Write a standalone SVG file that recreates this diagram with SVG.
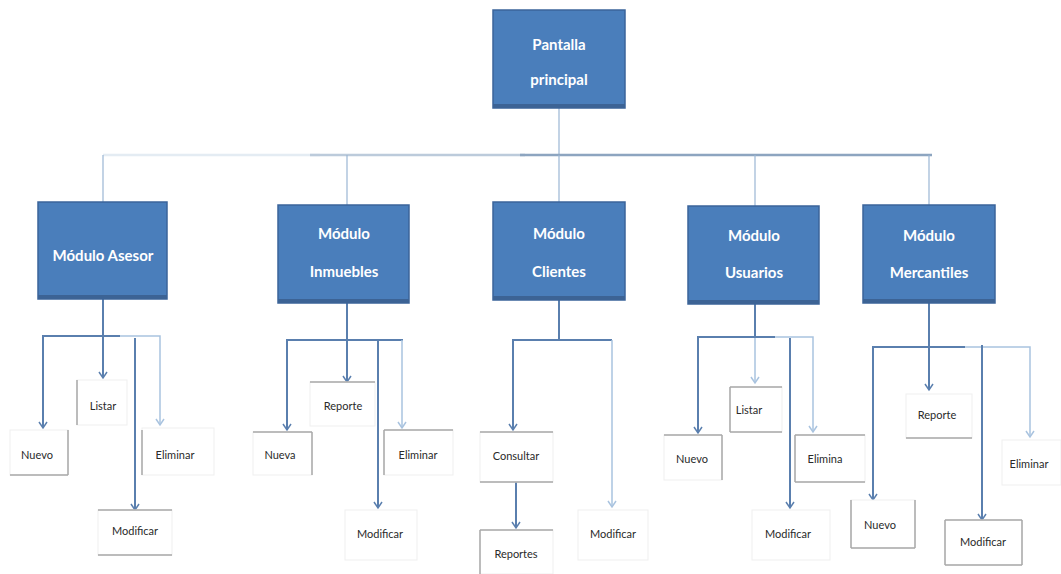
<svg xmlns="http://www.w3.org/2000/svg" width="1061" height="574" viewBox="0 0 1061 574">
  <style>
    .mod rect.body { fill: #4a7ebb; stroke: #3b649a; stroke-width: 1.5; }
    .mod rect.shade { fill: #3c6395; }
    .mod text { font-family: Lato, "Open Sans", "Liberation Sans", sans-serif; font-weight: bold; font-size: 15px; fill: #ffffff; text-anchor: middle; }
    .leaf rect { fill: #ffffff; stroke: #efefef; stroke-width: 1; }
    .leaf line { stroke: #a9a9a9; stroke-width: 1.5; }
    .leaf text { font-family: Lato, "Open Sans", "Liberation Sans", sans-serif; font-size: 11px; fill: #2a2a2a; text-anchor: middle; }
    .dark { fill: none; stroke: #5a7fae; stroke-width: 2; }
    .light { fill: none; stroke: #a9c3df; stroke-width: 1.5; }
    .thin { fill: none; stroke: #9ab6d4; stroke-width: 1.2; }
  </style>
  <defs>
    <!-- open V arrowheads, drawn pointing along +x -->
    <marker id="arrDark" markerUnits="userSpaceOnUse" markerWidth="12" markerHeight="12" refX="10" refY="6" orient="auto" viewBox="0 0 12 12">
      <path d="M4 2 L10 6 L4 10" fill="none" stroke="#5a7fae" stroke-width="1.5"/>
    </marker>
    <marker id="arrLight" markerUnits="userSpaceOnUse" markerWidth="12" markerHeight="12" refX="10" refY="6" orient="auto" viewBox="0 0 12 12">
      <path d="M4 2 L10 6 L4 10" fill="none" stroke="#a9c3df" stroke-width="1.5"/>
    </marker>
  </defs>

  <rect width="1061" height="574" fill="#ffffff"/>

  <!-- connectors -->
  <g id="connectors">
    <!-- main screen to modules -->
    <line class="thin" x1="559" y1="108" x2="559" y2="155"/>
    <line x1="103" y1="155" x2="320" y2="155" stroke="#e4ecf3" stroke-width="2.5"/>
    <line x1="310" y1="155" x2="525" y2="155" stroke="#bccbdb" stroke-width="2.5"/>
    <line x1="520" y1="155" x2="932" y2="155" stroke="#8da5c0" stroke-width="2.5"/>
    <line class="thin" x1="103" y1="155" x2="103" y2="202"/>
    <line class="thin" x1="347" y1="155" x2="347" y2="205"/>
    <line class="thin" x1="559" y1="155" x2="559" y2="202"/>
    <line class="thin" x1="755" y1="155" x2="755" y2="206"/>
    <line class="thin" x1="929" y1="155" x2="929" y2="205"/>

    <!-- Módulo Asesor -->
    <path class="dark" d="M103 299 V378" marker-end="url(#arrDark)"/>
    <path class="dark" d="M120 336 H43 V428" marker-end="url(#arrDark)"/>
    <path class="light" d="M120 336 H160 V425" marker-end="url(#arrLight)"/>
    <path class="dark" d="M135 338 V510" marker-end="url(#arrDark)"/>

    <!-- Módulo Inmuebles -->
    <path class="dark" d="M347 303 V382" marker-end="url(#arrDark)"/>
    <path class="dark" d="M403 340 H287 V430" marker-end="url(#arrDark)"/>
    <path class="light" d="M402 340 V428" marker-end="url(#arrLight)"/>
    <path class="dark" d="M378 340 V508" marker-end="url(#arrDark)"/>

    <!-- Módulo Clientes -->
    <path class="dark" d="M559 300 V340"/>
    <path class="dark" d="M612 340 H513 V430" marker-end="url(#arrDark)"/>
    <path class="light" d="M612 340 V507" marker-end="url(#arrLight)"/>
    <path class="dark" d="M516 482 V528" marker-end="url(#arrDark)"/>

    <!-- Módulo Usuarios -->
    <path class="dark" d="M755 304 V337"/>
    <path class="light" d="M755 337 V383" marker-end="url(#arrLight)"/>
    <path class="dark" d="M775 337 H698 V433" marker-end="url(#arrDark)"/>
    <path class="light" d="M775 337 H813 V432" marker-end="url(#arrLight)"/>
    <path class="dark" d="M790 338 V508" marker-end="url(#arrDark)"/>

    <!-- Módulo Mercantiles -->
    <path class="dark" d="M929 303 V390" marker-end="url(#arrDark)"/>
    <path class="dark" d="M965 347 H873 V500" marker-end="url(#arrDark)"/>
    <path class="light" d="M965 347 H1030 V437" marker-end="url(#arrLight)"/>
    <path class="dark" d="M982 345 V520" marker-end="url(#arrDark)"/>
  </g>

  <!-- main screen -->
  <g id="pantalla-principal" class="mod">
    <rect class="body" x="493" y="10" width="132" height="98"/>
    <rect class="shade" x="493" y="104" width="132" height="4"/>
    <text x="559" y="50">Pantalla</text>
    <text x="559" y="85">principal</text>
  </g>

  <!-- modules -->
  <g id="modulo-asesor" class="mod">
    <rect class="body" x="38" y="202" width="129" height="97"/>
    <rect class="shade" x="38" y="295" width="129" height="4"/>
    <text x="103" y="261">Módulo Asesor</text>
  </g>
  <g id="modulo-inmuebles" class="mod">
    <rect class="body" x="278" y="205" width="131" height="98"/>
    <rect class="shade" x="278" y="299" width="131" height="4"/>
    <text x="344" y="239">Módulo</text>
    <text x="344" y="277">Inmuebles</text>
  </g>
  <g id="modulo-clientes" class="mod">
    <rect class="body" x="493" y="202" width="132" height="98"/>
    <rect class="shade" x="493" y="296" width="132" height="4"/>
    <text x="559" y="239">Módulo</text>
    <text x="559" y="277">Clientes</text>
  </g>
  <g id="modulo-usuarios" class="mod">
    <rect class="body" x="688" y="206" width="131" height="98"/>
    <rect class="shade" x="688" y="300" width="131" height="4"/>
    <text x="754" y="241">Módulo</text>
    <text x="754" y="278">Usuarios</text>
  </g>
  <g id="modulo-mercantiles" class="mod">
    <rect class="body" x="863" y="205" width="132" height="98"/>
    <rect class="shade" x="863" y="299" width="132" height="4"/>
    <text x="929" y="241">Módulo</text>
    <text x="929" y="278">Mercantiles</text>
  </g>

  <!-- Asesor actions -->
  <g id="asesor-nuevo" class="leaf">
    <rect x="10" y="430" width="58" height="45"/>
    <line x1="68" y1="430" x2="68" y2="475"/><line x1="10" y1="475" x2="68" y2="475"/>
    <text x="37" y="459">Nuevo</text>
  </g>
  <g id="asesor-listar" class="leaf">
    <rect x="77" y="380" width="50" height="45"/>
    <line x1="77" y1="380" x2="77" y2="425"/>
    <text x="103" y="410">Listar</text>
  </g>
  <g id="asesor-eliminar" class="leaf">
    <rect x="142" y="428" width="72" height="47"/>
    <line x1="142" y1="430" x2="142" y2="475"/>
    <text x="175" y="459">Eliminar</text>
  </g>
  <g id="asesor-modificar" class="leaf">
    <rect x="98" y="510" width="74" height="45"/>
    <line x1="98" y1="510" x2="172" y2="510"/><line x1="98" y1="555" x2="172" y2="555"/>
    <text x="135" y="535">Modificar</text>
  </g>

  <!-- Inmuebles actions -->
  <g id="inmuebles-nueva" class="leaf">
    <rect x="253" y="432" width="59" height="43"/>
    <line x1="253" y1="432" x2="312" y2="432"/><line x1="312" y1="432" x2="312" y2="475"/>
    <text x="280" y="459">Nueva</text>
  </g>
  <g id="inmuebles-reporte" class="leaf">
    <rect x="310" y="382" width="65" height="44"/>
    <line x1="310" y1="382" x2="375" y2="382"/>
    <text x="343" y="410">Reporte</text>
  </g>
  <g id="inmuebles-eliminar" class="leaf">
    <rect x="384" y="430" width="69" height="45"/>
    <line x1="384" y1="430" x2="453" y2="430"/><line x1="384" y1="430" x2="384" y2="475"/>
    <text x="418" y="459">Eliminar</text>
  </g>
  <g id="inmuebles-modificar" class="leaf">
    <rect x="345" y="510" width="72" height="50"/>
    <text x="380" y="538">Modificar</text>
  </g>

  <!-- Clientes actions -->
  <g id="clientes-consultar" class="leaf">
    <rect x="480" y="432" width="73" height="50"/>
    <line x1="480" y1="432" x2="553" y2="432"/><line x1="480" y1="482" x2="553" y2="482"/>
    <text x="516" y="460">Consultar</text>
  </g>
  <g id="clientes-reportes" class="leaf">
    <rect x="480" y="530" width="73" height="44"/>
    <line x1="480" y1="530" x2="553" y2="530"/><line x1="480" y1="530" x2="480" y2="574"/>
    <text x="516" y="558">Reportes</text>
  </g>
  <g id="clientes-modificar" class="leaf">
    <rect x="578" y="510" width="70" height="50"/>
    <text x="613" y="538">Modificar</text>
  </g>

  <!-- Usuarios actions -->
  <g id="usuarios-nuevo" class="leaf">
    <rect x="664" y="435" width="58" height="45"/>
    <line x1="664" y1="435" x2="722" y2="435"/><line x1="722" y1="435" x2="722" y2="480"/>
    <text x="692" y="463">Nuevo</text>
  </g>
  <g id="usuarios-listar" class="leaf">
    <rect x="730" y="387" width="52" height="45"/>
    <line x1="730" y1="387" x2="782" y2="387"/><line x1="730" y1="387" x2="730" y2="432"/><line x1="730" y1="432" x2="782" y2="432"/>
    <text x="749" y="414">Listar</text>
  </g>
  <g id="usuarios-eliminar" class="leaf">
    <rect x="795" y="435" width="70" height="47"/>
    <line x1="795" y1="435" x2="865" y2="435"/><line x1="795" y1="435" x2="795" y2="482"/><line x1="795" y1="482" x2="865" y2="482"/>
    <text x="825" y="463">Elimina</text>
  </g>
  <g id="usuarios-modificar" class="leaf">
    <rect x="752" y="510" width="78" height="50"/>
    <text x="788" y="538">Modificar</text>
  </g>

  <!-- Mercantiles actions -->
  <g id="mercantiles-reporte" class="leaf">
    <rect x="906" y="394" width="66" height="44"/>
    <line x1="906" y1="438" x2="972" y2="438"/>
    <text x="937" y="419">Reporte</text>
  </g>
  <g id="mercantiles-nuevo" class="leaf">
    <rect x="851" y="500" width="64" height="48"/>
    <line x1="851" y1="500" x2="851" y2="548"/><line x1="915" y1="500" x2="915" y2="548"/><line x1="851" y1="548" x2="915" y2="548"/>
    <text x="880" y="529">Nuevo</text>
  </g>
  <g id="mercantiles-eliminar" class="leaf">
    <rect x="1002" y="440" width="59" height="45"/>
    <text x="1029" y="468">Eliminar</text>
  </g>
  <g id="mercantiles-modificar" class="leaf">
    <rect x="945" y="520" width="77" height="45"/>
    <line x1="945" y1="520" x2="1022" y2="520"/><line x1="945" y1="520" x2="945" y2="565"/><line x1="945" y1="565" x2="1022" y2="565"/><line x1="1022" y1="520" x2="1022" y2="565"/>
    <text x="983" y="546">Modificar</text>
  </g>
</svg>
